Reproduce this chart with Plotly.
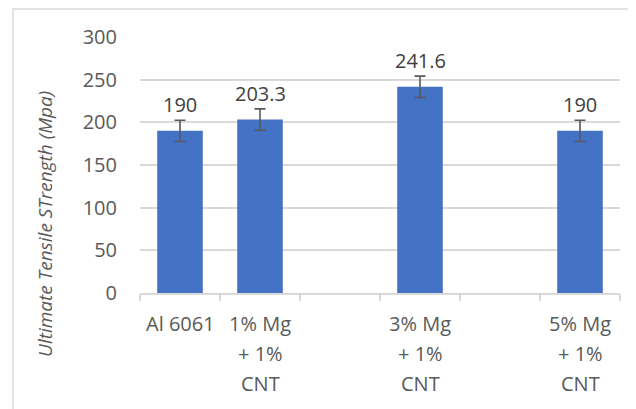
import plotly.graph_objects as go

categories = ["Al 6061", "1% Mg<br>+ 1%<br>CNT", " ", "3% Mg<br>+ 1%<br>CNT", "  ", "5% Mg<br>+ 1%<br>CNT"]
values = [190, 203.3, None, 241.6, None, 190]
errors = [12.5, 12.5, 0, 12.5, 0, 12.5]
labels = ["190", "203.3", "", "241.6", "", "190"]
y_ticks = [0, 50, 100, 150, 200, 250, 300]

FONT = "Open Sans"
GRID = "#d9d9d9"
# page body has an 8px margin; figure sized to fit the 636x409 window
W, H = 628, 401
L, T, PW, PH = 132, 29, 480, 256

fig = go.Figure()
fig.add_trace(go.Bar(
    x=categories, y=values,
    marker=dict(color="#4472C4", line=dict(width=0)),
    error_y=dict(type="data", array=errors, visible=True, color="#595959", thickness=1.6, width=5.5),
    hoverinfo="skip",
))

for c, v, e, t in zip(categories, values, errors, labels):
    if v is None:
        continue
    fig.add_annotation(x=c, y=v + e, text=t, showarrow=False, yanchor="bottom", yshift=0,
                       font=dict(family=FONT, size=20, color="#404040"))

# category labels, one annotation per line for Excel-like line spacing
for c in categories:
    for i, line in enumerate(c.split("<br>")):
        if not line.strip():
            continue
        fig.add_annotation(x=c, y=0, text=line, showarrow=False, yanchor="middle", xanchor="center",
                           yshift=-(30 + 30 * i),
                           font=dict(family=FONT, size=20, color="#595959"))

fig.add_annotation(xref="paper", yref="paper", x=(37 - L) / PW, y=(T + PH - 216) / PH,
                   xanchor="center", yanchor="middle",
                   text="<i>Ultimate Tensile STrength (Mpa)</i>", textangle=-90, showarrow=False,
                   font=dict(family=FONT, size=19, color="#595959"))

fig.add_shape(type="rect", xref="paper", yref="paper",
              x0=(5 - L) / PW, x1=1.1, y0=-0.6, y1=(T + PH - 1) / PH,
              line=dict(color=GRID, width=1.5), fillcolor="rgba(0,0,0,0)", layer="below")

fig.update_layout(
    width=W, height=H,
    margin=dict(l=L, r=W - L - PW, t=T, b=H - T - PH),
    paper_bgcolor="white", plot_bgcolor="white",
    bargap=0.43, showlegend=False,
    font=dict(family=FONT, color="#595959"),
)
fig.update_xaxes(
    type="category", tickson="boundaries", ticks="outside", ticklen=6, tickcolor=GRID, tickwidth=1.5,
    showline=True, linecolor=GRID, linewidth=1.5, showgrid=False, showticklabels=False,
    automargin=False,
)
fig.update_yaxes(
    range=[0, 300], tickvals=y_ticks, showgrid=True, gridcolor=GRID, gridwidth=1.5,
    zeroline=False, showline=False, ticks="", ticklabelstandoff=22, automargin=False,
    tickfont=dict(family=FONT, size=20, color="#595959"),
)

fig.write_html("out.html")
